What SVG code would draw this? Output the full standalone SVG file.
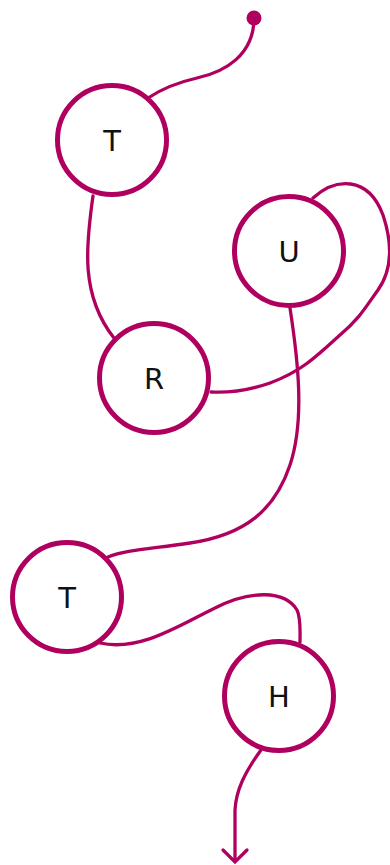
<svg xmlns="http://www.w3.org/2000/svg" width="390" height="865" viewBox="0 0 390 865">
<style>
.node circle{fill:#fff;stroke:#b0005f;stroke-width:5}
.node text{font-family:"DejaVu Sans",sans-serif;font-size:29px;fill:#111;text-anchor:middle;dominant-baseline:central}
.edge{fill:none;stroke:#b0005f;stroke-width:3.3;stroke-linecap:round}
</style>
<rect width="390" height="865" fill="#fff"/>
<g id="connectors">
<circle cx="254" cy="18" r="7.5" fill="#b0005f"/>
<path class="edge" d="M254,18 C254,55 225,72 197,78 C175,83 160,90 148,98"/>
<path class="edge" d="M93,196 C86,245 80,295 114,338"/>
<path class="edge" d="M313,198 C335,178 368,175 383,215 C393,245 392,270 378,290 C365,308 360,318 340,335 C315,358 300,372 270,383 C250,390 230,393 211,392"/>
<path class="edge" d="M290,308 C298,360 305,420 290,465 C275,510 245,535 190,543 C150,549 125,550 108,557"/>
<path class="edge" d="M100,643 C140,652 180,625 215,608 C250,590 285,590 297,610 C301,618 300,630 300,642"/>
<path class="edge" d="M261,750 C245,772 236,790 235,810 L235,861"/>
<polyline class="edge" points="223,850 235,862 247,850"/>
</g>
<g id="node-T1" class="node"><circle cx="112" cy="140" r="54.5"/><text x="112" y="141">T</text></g>
<g id="node-U" class="node"><circle cx="289" cy="251" r="54.5"/><text x="289" y="252">U</text></g>
<g id="node-R" class="node"><circle cx="154" cy="378" r="54.5"/><text x="154" y="379">R</text></g>
<g id="node-T2" class="node"><circle cx="67" cy="597" r="54.5"/><text x="67" y="598">T</text></g>
<g id="node-H" class="node"><circle cx="279" cy="696" r="54.5"/><text x="279" y="697">H</text></g>
</svg>
